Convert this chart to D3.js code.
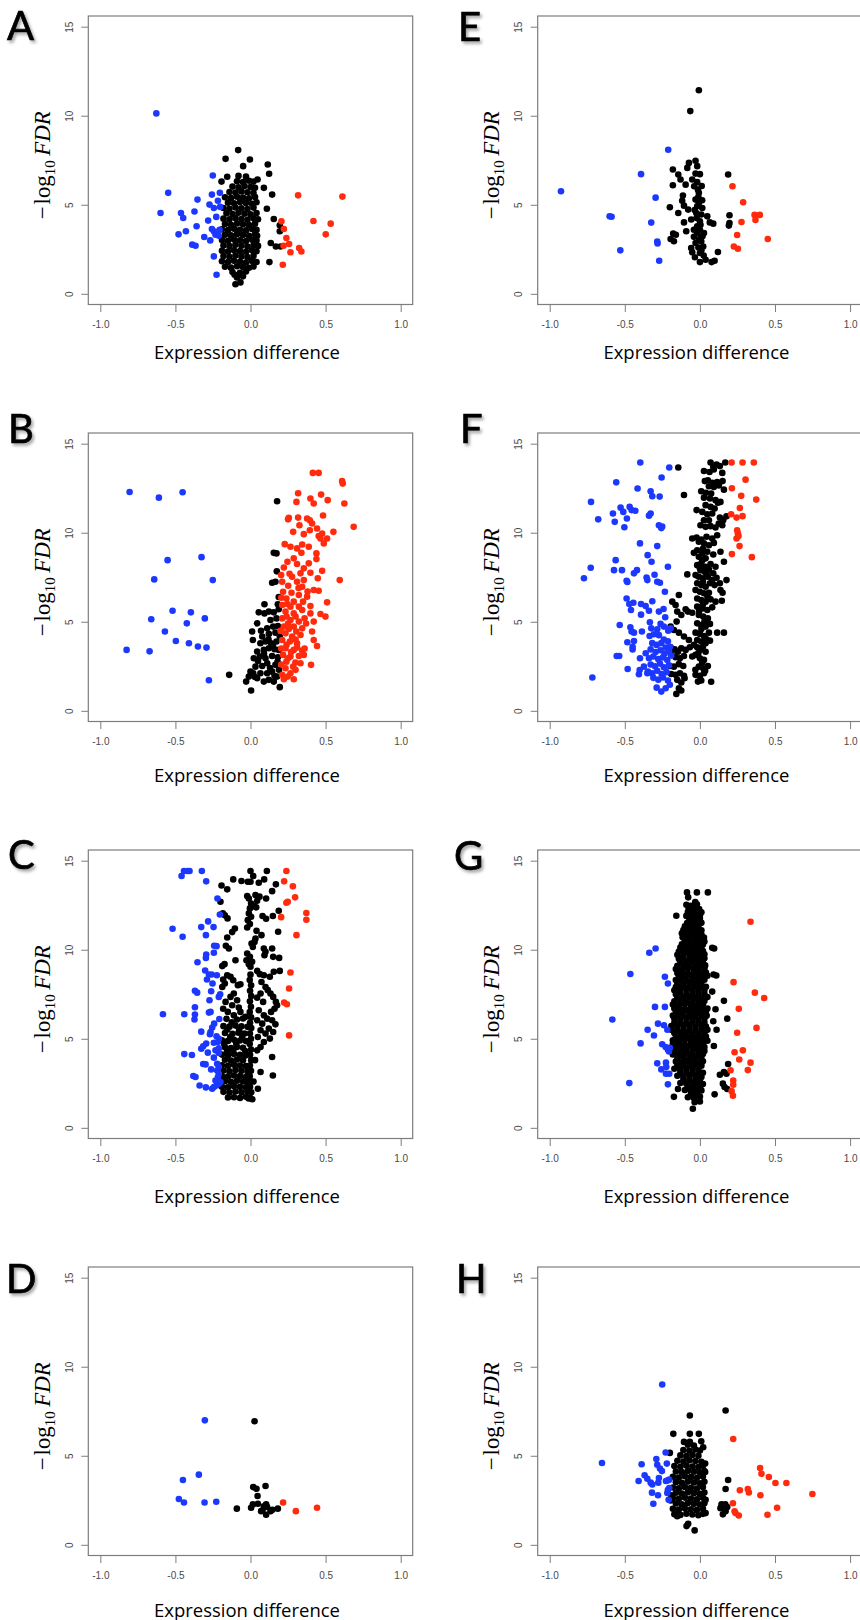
<!DOCTYPE html>
<html>
<head>
<meta charset="utf-8">
<script src="https://cdn.jsdelivr.net/npm/d3@7"></script>
<style>
  body { margin: 0; background: #fff; }
  svg { display: block; }
</style>
</head>
<body>
<div id="chart"></div>
<script>
// axis ticks and labels
const xTicks = [-1.0, -0.5, 0.0, 0.5, 1.0];
const yTicks = [0, 5, 10, 15];
const xLabel = "Expression difference";

// ---- panel A ----
const blueA = [[-0.627,10.13],[-0.548,5.67],[-0.599,4.54],[-0.463,4.54],[-0.448,4.26],[-0.353,5.29],[-0.373,4.62],[-0.359,3.79],[-0.430,3.51],[-0.479,3.34],[-0.388,2.76],[-0.366,2.70],[-0.308,3.19],[-0.268,3.00],[-0.282,4.11],[-0.273,5.01],[-0.257,5.57],[-0.251,6.64],[-0.204,5.67],[-0.217,5.23],[-0.244,4.82],[-0.202,4.88],[-0.228,4.32],[-0.257,3.64],[-0.244,3.51],[-0.222,3.41],[-0.211,3.26],[-0.233,3.32],[-0.244,2.10],[-0.226,1.07],[-0.206,3.60]];
const redA = [[0.317,5.53],[0.612,5.46],[0.206,4.07],[0.222,3.64],[0.419,4.09],[0.534,3.94],[0.501,3.34],[0.239,3.13],[0.257,2.80],[0.220,2.70],[0.266,2.33],[0.324,2.57],[0.339,2.38],[0.215,1.63]];
const blackA = [[-0.082,8.07],[-0.004,7.54],[-0.049,7.17],[-0.166,7.58],[-0.155,6.57],[-0.193,6.30],[0.115,7.26],[0.124,6.74],[0.089,5.95],[0.144,5.57],[0.109,4.78],[0.155,4.20],[0.195,3.85],[0.195,3.51],[0.135,2.85],[0.169,2.66],[0.200,2.66],[0.126,1.78],[-0.106,1.07],[-0.100,0.54],[-0.067,0.64],[0.044,3.26],[0.047,6.42],
  [-0.09,0.92],[-0.05,0.98],[-0.12,1.22],[-0.07,1.18],[-0.03,1.25],
  [-0.17,1.52],[-0.13,1.47],[-0.09,1.55],[-0.05,1.50],[-0.01,1.46],[0.02,1.53],
  [-0.19,1.83],[-0.15,1.78],[-0.11,1.85],[-0.07,1.80],[-0.03,1.76],[0.01,1.84],[0.04,1.79],
  [-0.18,2.12],[-0.14,2.08],[-0.10,2.15],[-0.06,2.10],[-0.02,2.06],[0.02,2.13],
  [-0.19,2.42],[-0.15,2.38],[-0.11,2.45],[-0.07,2.40],[-0.03,2.36],[0.01,2.44],[0.04,2.39],
  [-0.18,2.72],[-0.14,2.68],[-0.10,2.75],[-0.06,2.70],[-0.02,2.66],[0.02,2.73],[0.05,2.69],
  [-0.19,3.02],[-0.15,2.98],[-0.11,3.05],[-0.07,3.00],[-0.03,2.96],[0.01,3.04],[0.04,2.99],
  [-0.17,3.32],[-0.13,3.28],[-0.09,3.35],[-0.05,3.30],[-0.01,3.26],[0.03,3.34],
  [-0.19,3.62],[-0.15,3.58],[-0.11,3.65],[-0.07,3.60],[-0.03,3.56],[0.01,3.64],[0.04,3.59],
  [-0.17,3.92],[-0.13,3.88],[-0.09,3.95],[-0.05,3.90],[-0.01,3.86],[0.03,3.94],
  [-0.18,4.22],[-0.14,4.18],[-0.10,4.25],[-0.06,4.20],[-0.02,4.16],[0.02,4.24],[0.05,4.19],
  [-0.16,4.52],[-0.12,4.48],[-0.08,4.55],[-0.04,4.50],[0.00,4.46],[0.04,4.54],
  [-0.18,4.82],[-0.14,4.78],[-0.10,4.85],[-0.06,4.80],[-0.02,4.76],[0.02,4.84],
  [-0.15,5.12],[-0.11,5.08],[-0.07,5.15],[-0.03,5.10],[0.01,5.06],[0.04,5.14],
  [-0.17,5.42],[-0.13,5.38],[-0.09,5.45],[-0.05,5.40],[-0.01,5.36],[0.03,5.44],
  [-0.14,5.72],[-0.10,5.68],[-0.06,5.75],[-0.02,5.70],[0.02,5.66],
  [-0.12,6.02],[-0.08,5.98],[-0.04,6.05],[0.00,6.00],[0.03,5.96],
  [-0.09,6.32],[-0.05,6.28],[-0.01,6.35],[0.02,6.30],[-0.08,6.62],[-0.03,6.58]];

// ---- panel B ----
const blueB = [[-0.805,12.29],[-0.610,11.97],[-0.452,12.27],[-0.552,8.46],[-0.326,8.63],[-0.641,7.38],[-0.251,7.34],[-0.519,5.62],[-0.397,5.53],[-0.661,5.14],[-0.304,5.19],[-0.424,4.91],[-0.570,4.45],[-0.497,3.92],[-0.410,3.79],[-0.350,3.61],[-0.293,3.55],[-0.825,3.42],[-0.672,3.34],[-0.277,1.72]];
const redB = [[0.415,13.36],[0.454,13.36],[0.610,12.90],[0.614,12.76],[0.317,12.22],[0.470,12.14],[0.399,11.92],[0.514,11.83],[0.306,11.73],[0.421,11.64],[0.625,11.64],[0.255,10.84],[0.250,10.75],[0.317,10.85],[0.377,10.80],[0.395,10.70],[0.483,10.97],[0.410,10.52],[0.326,10.42],[0.687,10.33],[0.552,10.05],[0.443,10.24],[0.284,10.05],[0.355,9.92],[0.395,10.14],[0.454,9.81],[0.466,9.68],[0.510,9.68],[0.488,9.40],[0.477,9.96],[0.228,9.36],[0.266,9.21],[0.310,9.12],[0.344,9.34],[0.388,9.21],[0.339,8.87],[0.439,8.84],[0.288,8.56],[0.246,8.37],[0.310,8.24],[0.388,8.28],[0.439,8.52],[0.355,8.00],[0.222,8.05],[0.477,7.86],[0.399,7.75],[0.333,7.72],[0.277,7.53],[0.204,7.62],[0.448,7.44],[0.594,7.34],[0.355,7.34],[0.310,7.25],[0.251,7.02],[0.211,7.25],[0.344,6.97],[0.421,6.78],[0.454,6.74],[0.217,6.69],[0.273,6.63],[0.322,6.50],[0.377,6.41],[0.239,6.31],[0.288,6.13],[0.350,6.13],[0.510,6.09],[0.211,5.94],[0.266,5.85],[0.322,5.85],[0.399,5.88],[0.233,5.57],[0.288,5.47],[0.344,5.66],[0.399,5.47],[0.466,5.44],[0.499,5.29],[0.211,5.19],[0.266,5.10],[0.322,5.01],[0.421,5.01],[0.222,4.73],[0.288,4.73],[0.344,4.63],[0.410,4.45],[0.233,4.35],[0.277,4.17],[0.333,4.26],[0.211,3.98],[0.262,3.89],[0.310,3.79],[0.421,3.98],[0.443,3.64],[0.233,3.51],[0.288,3.42],[0.344,3.38],[0.217,3.14],[0.266,3.05],[0.322,3.08],[0.355,3.14],[0.239,2.76],[0.299,2.71],[0.233,2.39],[0.284,2.48],[0.403,2.58],[0.211,2.02],[0.248,1.92],[0.288,1.77],[0.222,1.77],[0.266,2.11],[0.333,2.67],
  [0.205,6.35],[0.245,6.00],[0.300,5.30],[0.250,4.90],[0.305,4.45],[0.200,4.50],[0.255,4.60],[0.300,4.00],[0.240,3.70],[0.205,3.50],[0.270,3.30],[0.310,3.55],[0.205,2.60],[0.250,2.95],[0.300,2.30],[0.360,3.50],[0.320,6.90],[0.260,7.70],[0.240,5.30],[0.370,4.90],[0.380,6.70],[0.360,5.20]];
const blackB = [[0.004,1.14],[-0.029,1.64],[-0.142,2.02],[-0.011,1.92],[0.018,2.11],[0.000,2.20],[0.044,1.83],[0.089,1.64],[0.122,1.74],[0.155,1.64],[0.195,1.33],[0.177,1.92],[0.066,2.11],[0.111,2.11],[0.144,2.20],[0.033,2.48],[0.078,2.52],[0.111,2.67],[0.166,2.58],[0.022,2.95],[0.062,3.05],[0.100,2.95],[0.144,3.08],[0.182,3.01],[0.044,3.33],[0.089,3.42],[0.122,3.51],[0.160,3.46],[0.188,3.42],[0.066,3.79],[0.100,3.89],[0.137,3.79],[0.173,3.89],[0.016,3.98],[0.011,4.45],[0.078,4.17],[0.122,4.32],[0.166,4.39],[0.195,4.17],[0.111,4.63],[0.151,4.73],[0.182,4.76],[0.044,4.91],[0.133,5.10],[0.173,5.19],[0.055,5.53],[0.093,5.47],[0.122,5.57],[0.155,5.53],[0.188,5.70],[0.093,5.98],[0.182,5.98],[0.144,7.19],[0.166,7.25],[0.175,7.83],[0.155,8.87],[0.173,8.84],[0.177,11.77],[0.188,6.39],
  [0.050,2.80],[0.130,2.40],[0.090,3.20],[0.150,3.70],[0.120,4.00],[0.070,4.50],[0.190,2.30],[0.030,1.90],[0.160,1.95],[0.180,2.75]];

// ---- panel C ----
const blueC = [[-0.443,14.42],[-0.421,14.42],[-0.406,14.42],[-0.324,14.42],[-0.459,14.14],[-0.295,13.84],[-0.220,12.88],[-0.204,11.98],[-0.282,11.59],[-0.519,11.18],[-0.328,11.27],[-0.246,11.27],[-0.452,10.73],[-0.297,10.82],[-0.242,10.22],[-0.226,10.20],[-0.244,9.83],[-0.295,9.73],[-0.297,9.54],[-0.353,9.30],[-0.302,8.83],[-0.277,8.61],[-0.259,8.61],[-0.224,8.57],[-0.290,8.33],[-0.253,8.10],[-0.370,7.69],[-0.355,7.59],[-0.262,7.67],[-0.202,7.50],[-0.211,7.35],[-0.273,7.16],[-0.370,6.77],[-0.266,6.51],[-0.277,6.47],[-0.583,6.38],[-0.441,6.38],[-0.370,6.36],[-0.373,6.08],[-0.208,6.11],[-0.242,5.85],[-0.255,5.63],[-0.266,5.38],[-0.328,5.40],[-0.270,5.25],[-0.226,5.14],[-0.211,5.00],[-0.217,4.82],[-0.295,4.73],[-0.244,4.78],[-0.315,4.58],[-0.328,4.44],[-0.211,4.46],[-0.233,4.35],[-0.284,4.22],[-0.441,4.14],[-0.390,4.09],[-0.211,4.20],[-0.244,3.94],[-0.315,3.58],[-0.299,3.56],[-0.222,3.60],[-0.211,3.41],[-0.262,3.28],[-0.222,3.22],[-0.211,3.04],[-0.217,2.85],[-0.381,2.91],[-0.366,2.85],[-0.339,2.38],[-0.297,2.27],[-0.255,2.19],[-0.244,2.29],[-0.226,2.38],[-0.211,2.48],[-0.200,2.57],[-0.233,2.66]];
const redC = [[0.239,14.42],[0.224,13.84],[0.282,13.56],[0.297,12.94],[0.239,12.64],[0.248,12.69],[0.372,12.06],[0.372,11.68],[0.204,11.83],[0.306,10.82],[0.266,8.72],[0.257,7.82],[0.224,7.03],[0.242,6.94],[0.257,5.19]];
const blackC = [[0.000,14.42],[0.109,14.42],[0.018,14.14],[0.000,13.82],[-0.115,13.95],[-0.060,13.86],[-0.018,13.82],[-0.193,13.61],[-0.155,13.39],[0.055,13.76],[0.091,13.95],[0.169,13.67],[0.144,13.29],[0.104,12.88],[-0.022,13.01],[-0.011,12.88],[0.004,12.60],[0.033,13.07],[0.044,12.75],[0.060,12.98],[-0.200,12.69],[-0.004,12.32],[0.022,12.45],[0.038,12.38],[-0.011,12.04],[0.004,11.85],[-0.018,11.66],[-0.004,11.44],[-0.022,11.25],[-0.184,12.04],[-0.171,11.94],[-0.153,11.76],[0.188,12.19],[0.080,11.89],[0.104,11.74],[0.149,11.89],[0.184,11.01],[-0.104,11.19],[-0.122,10.99],[-0.155,10.69],[0.040,11.06],[0.073,10.82],[0.033,10.63],[-0.164,10.22],[-0.144,10.07],[0.007,10.35],[0.016,10.16],[0.027,10.44],[0.089,10.07],[0.100,9.88],[0.093,9.69],[0.144,10.07],[0.151,9.60],[0.191,9.54],[-0.022,9.79],[-0.004,9.60],[-0.027,9.41],[0.011,9.32],[-0.011,9.19],[0.000,9.04],[-0.100,9.41],[-0.173,9.19],[-0.188,9.08],[0.044,8.81],[0.062,8.63],[0.089,8.57],[0.155,8.76],[0.129,8.48],[0.195,8.81],[-0.155,8.57],[-0.133,8.48],[-0.182,8.33],[-0.171,8.10],[-0.188,7.91],[-0.115,8.29],[-0.084,8.01],[-0.067,8.06],[0.073,8.19],[0.100,7.91],[0.115,7.73],[0.067,7.54],[0.044,7.31],[0.084,7.07],[0.133,7.54],[0.151,7.35],[0.169,7.07],[0.177,6.88],[0.160,6.69],[0.137,6.51],[-0.111,7.54],[-0.133,7.35],[-0.089,7.16],[-0.166,7.07],[-0.122,6.88],[-0.078,6.75],[-0.182,6.69],[-0.151,6.51],[-0.111,6.32],[-0.067,6.51],[-0.033,6.23],[0.055,6.60],[0.089,6.32],[0.111,6.13],[0.044,6.04],[0.078,5.85],[0.144,6.04],[0.166,5.81],[0.122,5.57],[0.151,5.38],[0.100,5.29],[0.129,5.01],[0.067,5.48],[0.049,5.10],[0.089,4.82],[0.067,4.54],[0.044,4.35],[0.144,3.98],[0.149,2.94],[0.067,3.13],[0.049,2.19],[0.030,3.80],[0.020,2.60],
  [0.000,8.60],[-0.005,8.30],[0.004,8.00],[-0.003,7.70],[0.005,7.40],[-0.004,7.10],[0.003,6.80],[-0.005,6.50],[0.004,6.20],[-0.003,5.90],[0.005,5.60],[-0.004,5.30],[0.003,5.00],[-0.005,4.70],[0.004,4.40],[-0.003,4.10],[0.005,3.80],[-0.004,3.50],[0.003,3.20],[-0.005,2.90],[0.004,2.60],[-0.003,2.30],[0.005,2.00],[-0.004,1.70],[0.012,1.60],[-0.012,1.65],
  [-0.15,1.70],[-0.11,1.72],[-0.07,1.68],[-0.03,1.74],
  [-0.18,2.02],[-0.14,1.98],[-0.10,2.04],[-0.06,2.00],[-0.02,2.05],
  [-0.19,2.31],[-0.15,2.28],[-0.11,2.34],[-0.07,2.30],[-0.03,2.27],
  [-0.17,2.62],[-0.13,2.58],[-0.09,2.64],[-0.05,2.60],[-0.02,2.57],
  [-0.19,2.91],[-0.15,2.88],[-0.11,2.94],[-0.07,2.90],[-0.03,2.87],
  [-0.18,3.22],[-0.14,3.18],[-0.10,3.24],[-0.06,3.20],[-0.02,3.17],
  [-0.19,3.51],[-0.15,3.48],[-0.11,3.54],[-0.07,3.50],[-0.03,3.47],
  [-0.17,3.82],[-0.13,3.78],[-0.09,3.84],[-0.05,3.80],
  [-0.19,4.11],[-0.15,4.08],[-0.11,4.14],[-0.07,4.10],[-0.03,4.07],
  [-0.17,4.52],[-0.13,4.48],[-0.09,4.54],[-0.05,4.50],
  [-0.19,4.91],[-0.15,4.88],[-0.11,4.94],[-0.07,4.90],[-0.03,4.87],
  [-0.17,5.32],[-0.12,5.28],[-0.08,5.34],[-0.04,5.30],
  [-0.18,5.71],[-0.14,5.68],[-0.10,5.74],[-0.06,5.70],[-0.02,5.67],
  [-0.16,6.12],[-0.09,6.08],[-0.05,6.14],
  [-0.155,4.30],[-0.115,4.33],[-0.035,4.31],[-0.175,4.70],[-0.095,4.72],[-0.135,5.10],[-0.055,5.12],[-0.155,5.52],[-0.075,5.50],[-0.125,5.92]];

// ---- panel D ----
const blueD = [[-0.304,6.99],[-0.344,3.94],[-0.450,3.64],[-0.477,2.57],[-0.443,2.38],[-0.306,2.38],[-0.228,2.42]];
const redD = [[0.217,2.38],[0.302,1.89],[0.443,2.08]];
const blackD = [[0.027,6.94],[0.018,3.24],[0.040,3.15],[0.100,3.30],[0.047,2.74],[0.016,2.27],[0.049,2.31],[0.004,2.08],[-0.091,2.03],[0.104,2.27],[0.111,2.12],[0.089,2.16],[0.071,1.89],[0.104,1.69],[0.133,1.89],[0.146,1.97],[0.182,2.03],[0.080,1.93]];

// ---- panel E ----
const blueE = [[-0.925,5.76],[-0.601,4.35],[-0.588,4.33],[-0.530,2.44],[-0.392,6.72],[-0.324,4.00],[-0.295,5.40],[-0.284,2.93],[-0.282,2.83],[-0.271,1.86],[-0.211,8.09]];
const redE = [[0.217,6.04],[0.288,5.14],[0.277,4.03],[0.364,4.43],[0.399,4.43],[0.370,4.15],[0.452,3.08],[0.248,3.30],[0.226,2.66],[0.253,2.53]];
const blackE = [[-0.007,11.43],[-0.064,10.26],[-0.029,7.47],[-0.073,7.35],[-0.180,6.98],[-0.084,7.07],[-0.144,6.70],[-0.129,6.42],[-0.180,6.10],[-0.095,6.13],[-0.051,6.42],[-0.029,6.75],[0.000,6.72],[-0.038,6.04],[-0.018,6.27],[-0.113,5.52],[-0.118,5.23],[-0.078,4.73],[-0.200,4.86],[-0.144,4.54],[-0.106,4.95],[-0.029,5.29],[-0.007,5.10],[0.016,4.82],[-0.024,4.54],[-0.058,4.17],[-0.106,4.01],[0.000,4.07],[0.049,4.35],[0.089,3.94],[0.066,4.01],[-0.091,3.51],[-0.178,3.38],[-0.160,3.32],[-0.195,3.08],[-0.173,2.95],[-0.040,3.60],[-0.018,3.41],[0.009,3.19],[0.027,3.41],[0.000,3.60],[-0.018,3.79],[0.009,2.95],[-0.029,2.85],[-0.058,2.57],[-0.051,2.33],[-0.033,2.05],[0.000,2.29],[0.022,2.66],[0.000,1.78],[0.038,1.91],[0.078,1.78],[0.098,1.86],[0.120,2.35],[0.188,6.70],[0.197,4.41],[0.197,3.98],[0.193,3.83],[-0.018,4.92],[-0.007,5.67],[0.009,4.45],[-0.022,4.26],[0.004,3.88],[-0.018,7.17],[-0.013,5.85],[0.012,6.05],[-0.010,5.45],[0.015,5.25],[-0.005,3.05],[0.018,3.25],[-0.010,2.60],[0.010,2.45],[-0.040,3.20],[0.025,2.15],[-0.035,4.70]];

// ---- panel F ----
const blueF = [[-0.397,13.94],[-0.204,13.66],[-0.557,12.83],[-0.255,13.10],[-0.415,12.48],[-0.328,12.33],[-0.317,12.05],[-0.268,12.03],[-0.725,11.73],[-0.528,11.41],[-0.468,11.45],[-0.455,11.27],[-0.430,11.23],[-0.579,11.08],[-0.510,11.17],[-0.486,10.80],[-0.328,11.08],[-0.339,10.96],[-0.677,10.75],[-0.567,10.61],[-0.503,10.31],[-0.273,10.42],[-0.251,10.35],[-0.257,10.26],[-0.399,9.40],[-0.284,9.25],[-0.348,8.74],[-0.561,8.46],[-0.322,8.37],[-0.213,8.09],[-0.727,8.03],[-0.572,7.90],[-0.519,7.90],[-0.419,7.90],[-0.439,7.72],[-0.302,7.64],[-0.772,7.44],[-0.355,7.49],[-0.350,7.34],[-0.488,7.30],[-0.483,7.23],[-0.284,7.25],[-0.266,7.19],[-0.233,6.69],[-0.488,6.31],[-0.443,6.07],[-0.470,6.00],[-0.392,6.00],[-0.361,5.88],[-0.317,6.15],[-0.459,5.66],[-0.392,5.40],[-0.339,5.62],[-0.273,5.57],[-0.242,5.72],[-0.231,5.25],[-0.333,4.97],[-0.534,4.82],[-0.262,4.88],[-0.463,4.69],[-0.455,4.45],[-0.439,4.39],[-0.386,4.45],[-0.324,4.63],[-0.284,4.58],[-0.240,4.73],[-0.195,4.63],[-0.211,4.50],[-0.483,3.85],[-0.439,3.92],[-0.448,3.60],[-0.448,3.45],[-0.554,3.08],[-0.537,3.08],[-0.399,2.95],[-0.481,2.35],[-0.401,2.29],[-0.406,2.05],[-0.716,1.87],
  [-0.335,4.20],[-0.306,4.30],[-0.273,4.25],[-0.240,4.00],[-0.213,3.90],
  [-0.317,3.80],[-0.288,3.70],[-0.257,3.80],[-0.228,3.55],[-0.200,3.60],
  [-0.328,3.45],[-0.295,3.30],[-0.262,3.40],[-0.235,3.20],[-0.206,3.35],
  [-0.339,2.95],[-0.310,3.05],[-0.277,2.90],[-0.246,3.00],[-0.217,2.85],[-0.191,3.10],
  [-0.328,2.60],[-0.299,2.50],[-0.266,2.65],[-0.240,2.45],[-0.206,2.55],
  [-0.346,2.20],[-0.317,2.10],[-0.284,2.25],[-0.255,2.07],[-0.222,2.17],
  [-0.310,1.85],[-0.277,1.75],[-0.246,1.87],[-0.213,1.70],
  [-0.288,1.30],[-0.257,1.08],[-0.228,1.27],[-0.200,1.46],
  [-0.373,2.48],[-0.361,3.23],[-0.350,2.11]];
const redF = [[0.211,13.94],[0.284,13.94],[0.359,13.94],[0.304,12.98],[0.213,12.50],[0.275,12.07],[0.375,11.86],[0.266,11.39],[0.208,11.04],[0.284,10.93],[0.244,10.85],[0.248,10.14],[0.253,9.96],[0.244,9.68],[0.257,9.81],[0.264,9.25],[0.213,8.80],[0.346,8.63]];
const blackF = [[-0.144,13.66],[0.071,13.94],[0.089,13.70],[0.111,13.83],[0.133,13.74],[0.169,13.94],
  [0.027,13.47],[0.064,13.41],[0.093,13.55],[0.149,13.36],
  [0.033,12.90],[0.053,12.95],[0.082,12.80],[0.115,12.85],[0.151,12.90],
  [0.060,12.61],[0.093,12.57],[0.126,12.65],[0.160,12.42],
  [0.009,12.33],[0.040,12.24],[0.075,12.20],[-0.106,12.12],
  [0.027,11.97],[0.067,11.92],[0.104,11.83],[0.137,11.73],[0.120,11.68],
  [0.038,11.55],[0.071,11.45],[0.098,11.36],[-0.022,11.27],
  [0.016,11.17],[0.049,11.04],[0.082,11.08],[0.133,10.85],[0.155,10.70],[0.177,10.92],
  [0.027,10.70],[0.060,10.70],[0.004,10.42],[0.038,10.33],[0.071,10.37],[0.104,10.29],[0.149,10.42],[0.126,10.52],
  [-0.051,9.68],[-0.022,9.73],[0.009,9.62],[0.044,9.77],[0.082,9.68],[0.115,9.86],
  [-0.007,9.49],[0.027,9.40],[0.060,9.30],[0.093,9.43],
  [-0.040,8.87],[-0.018,9.02],[0.016,8.84],[0.049,8.93],[0.089,8.78],[0.137,8.93],[0.160,8.37],
  [-0.007,8.65],[0.016,8.46],[0.038,8.56],
  [-0.018,8.18],[0.009,8.28],[0.038,8.09],[0.071,8.24],[0.104,8.09],
  [0.004,7.90],[0.031,7.81],[0.060,7.94],[0.089,7.72],[-0.084,7.66],
  [-0.029,7.62],[-0.007,7.53],[0.022,7.44],[0.053,7.53],[0.082,7.34],[0.111,7.47],[0.177,7.34],
  [-0.018,7.16],[0.009,7.06],[0.038,6.97],[0.067,7.16],[0.098,7.06],[0.133,7.16],
  [0.137,6.78],[0.151,6.63],[-0.029,6.78],[0.000,6.69],[0.027,6.60],[0.060,6.63],
  [-0.140,6.50],[-0.184,6.13],[-0.162,5.94],
  [-0.018,6.31],[0.009,6.22],[0.038,6.13],[0.071,6.26],[0.104,6.13],[0.146,6.18],
  [-0.095,5.70],[-0.080,5.57],[-0.051,5.51],[-0.151,5.57],[-0.124,5.38],
  [-0.018,5.85],[0.016,5.75],[0.049,5.66],[0.082,5.81],
  [-0.007,5.38],[0.022,5.29],[0.053,5.19],[-0.155,5.01],
  [-0.018,4.91],[0.009,4.82],[0.038,4.73],[0.067,4.88],[0.115,4.39],[0.160,4.39],
  [-0.195,4.73],[-0.173,4.54],[-0.140,4.39],[-0.106,4.17],[-0.073,3.98],
  [-0.029,4.39],[0.000,4.32],[0.027,4.20],[0.060,4.39],
  [-0.018,3.98],[0.009,3.89],[0.038,3.79],[0.067,3.94],
  [-0.018,3.57],[0.009,3.45],[0.038,3.32],
  [-0.195,3.57],[-0.168,3.45],[-0.146,3.32],[-0.124,3.51],[-0.095,3.42],[-0.067,3.57],[-0.040,3.70],
  [-0.188,3.14],[-0.162,3.01],[-0.133,2.95],[-0.106,3.08],[-0.051,3.05],[-0.029,3.14],
  [0.000,2.95],[0.027,2.86],
  [-0.200,2.52],[-0.173,2.48],[-0.140,2.62],[-0.111,2.52],
  [-0.007,2.48],[0.022,2.39],[0.053,2.52],
  [-0.191,2.07],[-0.162,2.02],[-0.133,2.11],[-0.106,1.96],
  [-0.029,2.02],[0.000,1.96],[0.027,2.11],
  [-0.151,1.74],[-0.124,1.59],[-0.102,1.83],
  [-0.013,1.64],[0.009,1.70],[0.075,1.63],
  [-0.140,1.27],[-0.124,1.14],[-0.157,0.95],
  [0.020,9.10],[0.000,8.00],[0.045,7.70],[0.020,7.25],[0.050,6.40],[0.020,5.95],[-0.005,5.60],[0.030,5.00],[0.010,4.60],[0.040,4.05],[0.020,3.60],[-0.010,3.25],[0.015,2.70],[0.035,2.25],[-0.030,2.30]];

// ---- panel G ----
const blueG = [[-0.295,10.07],[-0.337,9.83],[-0.463,8.64],[-0.233,8.48],[-0.213,8.10],[-0.299,6.79],[-0.233,6.79],[-0.583,6.08],[-0.279,5.85],[-0.239,5.76],[-0.217,5.51],[-0.348,5.51],[-0.306,5.18],[-0.395,4.74],[-0.251,4.69],[-0.228,4.54],[-0.213,4.39],[-0.206,4.29],[-0.200,4.50],[-0.284,3.62],[-0.226,3.66],[-0.224,3.41],[-0.257,3.28],[-0.226,3.04],[-0.204,3.04],[-0.470,2.51],[-0.213,2.44]];
const redG = [[0.337,11.57],[0.224,8.18],[0.366,7.59],[0.428,7.29],[0.259,6.68],[0.377,5.61],[0.248,5.34],[0.231,4.24],[0.286,4.35],[0.262,3.84],[0.337,3.66],[0.319,3.24],[0.204,3.23],[0.222,2.66],[0.222,2.42],[0.211,2.06],[0.220,1.80]];
const blackG = [[-0.086,13.22],[-0.020,13.22],[0.053,13.22],[-0.078,12.94],[-0.031,12.68],[-0.157,11.91],[0.027,10.69],[0.082,10.11],[0.095,10.07],[0.091,8.61],[0.109,8.55],[0.082,7.65],[0.160,7.13],[0.104,6.66],[0.182,6.13],[0.089,5.98],[0.111,5.51],[0.093,4.59],[0.188,3.58],[0.133,2.98],[0.160,3.13],[0.177,3.04],[0.153,2.48],[0.164,2.29],[0.182,2.18],[0.098,1.88],[-0.146,2.18],[-0.173,1.74],[-0.047,1.07],[0.000,1.48],[-0.035,1.44],
  [-0.09,12.52],[-0.06,12.47],[-0.02,12.55],
  [-0.08,12.12],[-0.05,12.08],[-0.02,12.15],[0.01,12.10],
  [-0.07,11.72],[-0.04,11.68],[0.00,11.75],
  [-0.10,11.32],[-0.07,11.28],[-0.04,11.35],[-0.01,11.30],
  [-0.12,10.92],[-0.08,10.88],[-0.05,10.95],[-0.02,10.90],[0.01,10.86],
  [-0.10,10.52],[-0.07,10.48],[-0.03,10.55],[0.00,10.50],[0.03,10.46],
  [-0.13,10.12],[-0.09,10.08],[-0.06,10.15],[-0.02,10.10],[0.01,10.06],
  [-0.15,9.72],[-0.11,9.68],[-0.07,9.75],[-0.04,9.70],[0.00,9.66],[0.03,9.74],
  [-0.13,9.32],[-0.09,9.28],[-0.05,9.35],[-0.02,9.30],[0.02,9.26],
  [-0.16,8.92],[-0.12,8.88],[-0.08,8.95],[-0.04,8.90],[-0.01,8.86],[0.03,8.94],
  [-0.14,8.52],[-0.10,8.48],[-0.06,8.55],[-0.02,8.50],[0.02,8.46],[0.05,8.54],
  [-0.15,8.12],[-0.11,8.08],[-0.07,8.15],[-0.03,8.10],[0.01,8.06],
  [-0.17,7.72],[-0.13,7.68],[-0.09,7.75],[-0.05,7.70],[-0.01,7.66],[0.03,7.74],
  [-0.15,7.32],[-0.11,7.28],[-0.07,7.35],[-0.03,7.30],[0.01,7.26],[0.05,7.34],
  [-0.18,6.92],[-0.14,6.88],[-0.10,6.95],[-0.06,6.90],[-0.02,6.86],[0.02,6.94],
  [-0.16,6.52],[-0.12,6.48],[-0.08,6.55],[-0.04,6.50],[0.00,6.46],[0.04,6.54],
  [-0.17,6.12],[-0.13,6.08],[-0.09,6.15],[-0.05,6.10],[-0.01,6.06],[0.03,6.14],
  [-0.19,5.72],[-0.15,5.68],[-0.11,5.75],[-0.07,5.70],[-0.03,5.66],[0.01,5.74],[0.04,5.69],
  [-0.17,5.32],[-0.13,5.28],[-0.09,5.35],[-0.05,5.30],[-0.01,5.26],[0.03,5.34],
  [-0.18,4.92],[-0.14,4.88],[-0.10,4.95],[-0.06,4.90],[-0.02,4.86],[0.02,4.94],[0.05,4.89],
  [-0.16,4.52],[-0.12,4.48],[-0.08,4.55],[-0.04,4.50],[0.00,4.46],[0.03,4.54],
  [-0.18,4.12],[-0.14,4.08],[-0.10,4.15],[-0.06,4.10],[-0.02,4.06],[0.02,4.14],
  [-0.16,3.72],[-0.12,3.68],[-0.08,3.75],[-0.04,3.70],[0.00,3.66],[0.02,3.74],
  [-0.17,3.32],[-0.13,3.28],[-0.09,3.35],[-0.05,3.30],[-0.01,3.26],
  [-0.15,2.92],[-0.11,2.88],[-0.07,2.95],[-0.03,2.90],[0.01,2.86],
  [-0.13,2.52],[-0.09,2.48],[-0.05,2.55],[-0.01,2.50],[0.02,2.46],
  [-0.10,2.12],[-0.06,2.08],[-0.02,2.15],[0.01,2.10],
  [-0.08,1.72],[-0.04,1.68],[0.00,1.75],
  [-0.075,12.30],[-0.04,12.33],[-0.005,12.28],
  [-0.09,11.90],[-0.06,11.93],[-0.03,11.88],[0.00,11.91],
  [-0.085,11.50],[-0.055,11.53],[-0.02,11.48],[0.01,11.51],
  [-0.11,11.10],[-0.08,11.13],[-0.05,11.08],[-0.02,11.11],[0.01,11.09],
  [-0.115,10.70],[-0.085,10.73],[-0.05,10.68],[-0.015,10.71],[0.015,10.69],
  [-0.12,10.30],[-0.085,10.33],[-0.05,10.28],[-0.015,10.31],[0.02,10.29],
  [-0.14,9.90],[-0.105,9.93],[-0.075,9.88],[-0.04,9.91],[-0.01,9.89],[0.02,9.92],
  [-0.14,9.50],[-0.11,9.53],[-0.07,9.48],[-0.035,9.51],[0.00,9.49],[0.03,9.52],
  [-0.15,9.10],[-0.11,9.13],[-0.07,9.08],[-0.03,9.11],[0.005,9.09],[0.035,9.12],
  [-0.15,8.70],[-0.12,8.73],[-0.08,8.68],[-0.04,8.71],[0.00,8.69],[0.04,8.72],
  [-0.16,8.30],[-0.13,8.33],[-0.09,8.28],[-0.05,8.31],[-0.01,8.29],[0.03,8.32],
  [-0.16,7.90],[-0.12,7.93],[-0.08,7.88],[-0.04,7.91],[0.00,7.89],[0.04,7.92],
  [-0.16,7.50],[-0.13,7.53],[-0.09,7.48],[-0.05,7.51],[-0.01,7.49],[0.03,7.52],
  [-0.17,7.10],[-0.13,7.13],[-0.09,7.08],[-0.05,7.11],[-0.01,7.09],[0.03,7.12],
  [-0.17,6.70],[-0.14,6.73],[-0.10,6.68],[-0.06,6.71],[-0.02,6.69],[0.02,6.72],[0.05,6.70],
  [-0.18,6.30],[-0.15,6.33],[-0.11,6.28],[-0.07,6.31],[-0.03,6.29],[0.01,6.32],[0.045,6.30],
  [-0.17,5.90],[-0.13,5.93],[-0.09,5.88],[-0.05,5.91],[-0.01,5.89],[0.03,5.92],
  [-0.19,5.50],[-0.15,5.53],[-0.11,5.48],[-0.07,5.51],[-0.03,5.49],[0.01,5.52],[0.05,5.50],
  [-0.16,5.10],[-0.12,5.13],[-0.08,5.08],[-0.04,5.11],[0.00,5.09],[0.04,5.12],
  [-0.18,4.70],[-0.14,4.73],[-0.10,4.68],[-0.06,4.71],[-0.02,4.69],[0.02,4.72],
  [-0.17,4.30],[-0.13,4.33],[-0.09,4.28],[-0.05,4.31],[-0.01,4.29],[0.03,4.32],
  [-0.15,3.90],[-0.11,3.93],[-0.07,3.88],[-0.03,3.91],[0.01,3.89],
  [-0.15,3.50],[-0.11,3.53],[-0.07,3.48],[-0.03,3.51],[0.01,3.49],
  [-0.13,3.10],[-0.09,3.13],[-0.05,3.08],[-0.01,3.11],[0.02,3.09],
  [-0.11,2.70],[-0.07,2.73],[-0.03,2.68],[0.00,2.71],
  [-0.08,2.30],[-0.04,2.33],[0.00,2.28],
  [-0.06,1.90],[-0.02,1.93]];

// ---- panel H ----
const blueH = [[-0.251,9.00],[-0.652,4.59],[-0.388,4.52],[-0.290,4.82],[-0.228,5.18],[-0.220,4.56],[-0.284,4.50],[-0.266,4.28],[-0.253,4.14],[-0.368,3.90],[-0.350,3.71],[-0.408,3.58],[-0.328,3.49],[-0.317,3.39],[-0.273,3.75],[-0.277,3.49],[-0.226,3.58],[-0.213,3.62],[-0.204,3.66],[-0.319,2.93],[-0.279,2.78],[-0.213,3.09],[-0.204,3.19],[-0.217,2.91],[-0.310,2.31],[-0.208,2.53]];
const redH = [[0.222,5.94],[0.401,4.31],[0.410,3.99],[0.459,3.81],[0.503,3.47],[0.576,3.47],[0.319,3.13],[0.326,2.94],[0.266,3.06],[0.403,2.78],[0.749,2.85],[0.220,2.33],[0.231,1.88],[0.237,1.78],[0.259,1.65],[0.514,2.08],[0.450,1.69]];
const blackH = [[-0.067,7.26],[0.171,7.54],[-0.177,6.23],[-0.067,6.23],[-0.007,6.23],[-0.106,5.78],[-0.067,5.78],[0.009,5.81],[0.022,5.48],[0.035,4.56],[0.035,4.09],[0.188,3.64],[0.171,3.13],[0.137,2.06],[0.155,2.12],[0.169,2.27],[0.182,2.12],[0.153,1.71],[0.171,1.89],[0.144,2.27],[0.038,1.78],[0.038,2.53],[-0.089,1.05],[-0.078,1.18],[-0.035,0.81],[-0.162,1.74],[-0.151,1.61],[-0.195,2.49],[-0.191,2.78],[-0.200,5.16],
  [-0.17,1.72],[-0.13,1.68],[-0.09,1.75],[-0.05,1.70],[-0.01,1.66],[0.02,1.74],
  [-0.18,2.02],[-0.14,1.98],[-0.10,2.05],[-0.06,2.00],[-0.02,1.96],[0.02,2.04],
  [-0.16,2.32],[-0.12,2.28],[-0.08,2.35],[-0.04,2.30],[0.00,2.26],[0.03,2.34],
  [-0.18,2.62],[-0.14,2.58],[-0.10,2.65],[-0.06,2.60],[-0.02,2.56],[0.02,2.64],
  [-0.16,2.92],[-0.12,2.88],[-0.08,2.95],[-0.04,2.90],[0.00,2.86],[0.03,2.94],
  [-0.18,3.22],[-0.14,3.18],[-0.10,3.25],[-0.06,3.20],[-0.02,3.16],[0.02,3.24],
  [-0.16,3.52],[-0.12,3.48],[-0.08,3.55],[-0.04,3.50],[0.00,3.46],[0.03,3.54],
  [-0.18,3.82],[-0.14,3.78],[-0.10,3.85],[-0.06,3.80],[-0.02,3.76],[0.02,3.84],
  [-0.16,4.12],[-0.12,4.08],[-0.08,4.15],[-0.04,4.10],[0.00,4.06],[0.03,4.14],
  [-0.17,4.42],[-0.13,4.38],[-0.09,4.45],[-0.05,4.40],[-0.01,4.36],[0.02,4.44],
  [-0.15,4.72],[-0.11,4.68],[-0.07,4.75],[-0.03,4.70],[0.01,4.66],
  [-0.13,5.02],[-0.09,4.98],[-0.05,5.05],[-0.01,5.00],
  [-0.11,5.32],[-0.07,5.28],[-0.03,5.35],[0.00,5.30],
  [-0.08,5.62],[-0.04,5.58]];

// panel layout: letter, column, row and data series
const panels = [
  { letter: "A", col: 0, row: 0, blue: blueA, black: blackA, red: redA },
  { letter: "B", col: 0, row: 1, blue: blueB, black: blackB, red: redB },
  { letter: "C", col: 0, row: 2, blue: blueC, black: blackC, red: redC },
  { letter: "D", col: 0, row: 3, blue: blueD, black: blackD, red: redD },
  { letter: "E", col: 1, row: 0, blue: blueE, black: blackE, red: redE },
  { letter: "F", col: 1, row: 1, blue: blueF, black: blackF, red: redF },
  { letter: "G", col: 1, row: 2, blue: blueG, black: blackG, red: redG },
  { letter: "H", col: 1, row: 3, blue: blueH, black: blackH, red: redH }
];

const width = 860, height = 1620;
const boxW = 324.4, boxH = 288.5;
const colLeft = [88.3, 537.7];
const rowTop = [16, 433, 850, 1267];
const xLabelGap = [54.3, 60.7, 64.4, 61];
const letterPos = {
  A: [7, 40], B: [8, 443], C: [8, 869], D: [6, 1293],
  E: [458, 40.7], F: [460, 443.3], G: [454, 870], H: [456, 1292.7]
};
const colors = { blue: "#1c38ff", red: "#ff2b0c", black: "#000" };
const tickColor = "#7d7d7d";

const svg = d3.select("#chart")
  .append("svg")
  .attr("width", width)
  .attr("height", height);

const filter = svg.append("defs").append("filter")
  .attr("id", "shadow")
  .attr("x", "-30%").attr("y", "-30%")
  .attr("width", "160%").attr("height", "160%");
filter.append("feDropShadow")
  .attr("dx", 2).attr("dy", 2.5)
  .attr("stdDeviation", 1.6)
  .attr("flood-color", "#000")
  .attr("flood-opacity", 0.35);

panels.forEach(p => {
  const left = colLeft[p.col];
  const top = rowTop[p.row];

  const x = d3.scaleLinear().domain([-1.08, 1.08]).range([left, left + boxW]);
  const y = d3.scaleLinear().domain([-0.6, 15.6]).range([top + boxH, top]);

  const g = svg.append("g");

  // x axis
  const gx = g.append("g")
    .attr("transform", `translate(0,${top + boxH})`)
    .call(d3.axisBottom(x)
      .tickValues(xTicks)
      .tickFormat(d => d.toFixed(1))
      .tickSize(7.5)
      .tickPadding(8.5));
  gx.select(".domain").remove();
  gx.selectAll("line").attr("stroke", tickColor);
  gx.selectAll("text")
    .attr("font-family", "Liberation Sans, Arial, sans-serif")
    .attr("font-size", 10)
    .attr("fill", "#4a4a4a");

  // y axis, labels turned like R's default
  const gy = g.append("g")
    .attr("transform", `translate(${left},0)`)
    .call(d3.axisLeft(y)
      .tickValues(yTicks)
      .tickFormat(d3.format("d"))
      .tickSize(7));
  gy.select(".domain").remove();
  gy.selectAll("line").attr("stroke", tickColor);
  gy.selectAll("text")
    .attr("transform", "rotate(-90)")
    .attr("x", 0)
    .attr("y", -15.5)
    .attr("dy", 0)
    .attr("text-anchor", "middle")
    .attr("font-family", "Liberation Sans, Arial, sans-serif")
    .attr("font-size", 10)
    .attr("fill", "#4a4a4a");

  // box
  g.append("rect")
    .attr("x", left).attr("y", top)
    .attr("width", boxW).attr("height", boxH)
    .attr("fill", "none")
    .attr("stroke", tickColor)
    .attr("stroke-width", 1.2);

  // points: black first, then coloured ones on top
  [["black", p.black], ["blue", p.blue], ["red", p.red]].forEach(([key, data]) => {
    g.append("g")
      .attr("fill", colors[key])
      .selectAll("circle")
      .data(data)
      .join("circle")
      .attr("cx", d => x(d[0]))
      .attr("cy", d => y(d[1]))
      .attr("r", 3.3);
  });

  // axis titles
  g.append("text")
    .attr("x", left + boxW / 2 - 3.5)
    .attr("y", top + boxH + xLabelGap[p.row])
    .attr("text-anchor", "middle")
    .attr("font-family", "Open Sans, Lato, sans-serif")
    .attr("font-size", 17.5)
    .attr("textLength", 186)
    .attr("lengthAdjust", "spacingAndGlyphs")
    .attr("fill", "#000")
    .text(xLabel);

  const yl = g.append("text")
    .attr("transform", `translate(${left - 38.3},${top + boxH / 2 + 5}) rotate(-90)`)
    .attr("text-anchor", "middle")
    .attr("font-family", "Liberation Serif, DejaVu Serif, serif")
    .attr("font-size", 23)
    .attr("textLength", 108)
    .attr("lengthAdjust", "spacingAndGlyphs")
    .attr("fill", "#000");
  yl.append("tspan").text("\u2212\u200alog");
  yl.append("tspan").attr("font-size", 15).attr("dy", 4.5).text("10");
  yl.append("tspan").attr("dy", -4.5).text("\u2009");
  yl.append("tspan").attr("font-style", "italic").text("FDR");

  // panel letter
  const lp = letterPos[p.letter];
  svg.append("text")
    .attr("x", lp[0])
    .attr("y", lp[1])
    .attr("font-family", "Lato, Open Sans, sans-serif")
    .attr("font-size", 40)
    .attr("fill", "#000")
    .attr("stroke", "#000")
    .attr("stroke-width", 0.7)
    .attr("filter", "url(#shadow)")
    .text(p.letter);
});
</script>
</body>
</html>
